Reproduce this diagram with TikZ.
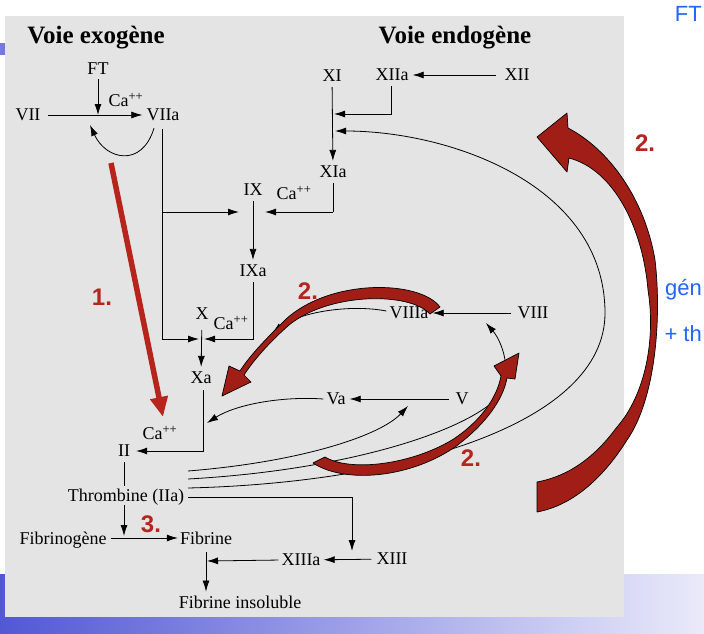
\documentclass[tikz,border=0pt]{standalone}
\usepackage{fontspec}
\setmainfont{Liberation Serif}
\newfontfamily\annot{Liberation Sans}
\usetikzlibrary{arrows.meta}
\definecolor{scan}{RGB}{228,228,228}
\definecolor{annred}{RGB}{182,36,28}
\definecolor{blkred}{RGB}{160,30,22}
\definecolor{hand}{RGB}{35,100,250}
\definecolor{barL}{RGB}{82,88,212}
\definecolor{barR}{RGB}{234,234,250}
\begin{document}
\begin{tikzpicture}[x=1pt,y=-1pt,
  lab/.style={font=\fontsize{18}{18}\selectfont, inner sep=0pt, text depth=0pt},
  hd/.style={font=\bfseries\fontsize{25}{25}\selectfont, inner sep=0pt, text depth=0pt},
  num/.style={font=\annot\bfseries\fontsize{24}{24}\selectfont, text=annred, inner sep=0pt},
  ln/.style={line width=0.8pt, black},
  arr/.style={ln, -{Latex[length=11pt,width=7pt]}},
  blk/.style={fill=blkred, draw=black, line width=0.7pt, line join=round},
  hw/.style={font=\annot\fontsize{22}{22}\selectfont, text=hand, inner sep=0pt}
]
\useasboundingbox (0,0) rectangle (704,634);
\fill[white] (0,0) rectangle (704,634);
\shade[left color=barL, right color=barR] (0,574) rectangle (704,634);
\fill[barL!80!white] (0,43) rectangle (6,55);
\fill[scan] (5,16) rectangle (624,617);

% handwritten notes
\node[hw, anchor=east] (hwFT) at (702,14) {FT};
\node[hw, anchor=east] (hwgen) at (702,290) {gén};
\node[hw, anchor=east] (hwth) at (702,334) {+ th};

% headings
\node[hd] (hexo) at (96,35) {Voie exogène};
\node[hd] (hendo) at (455,35) {Voie endogène};

% factors
\node[lab] (FT) at (98,69) {FT};
\node[lab] (caA) at (126,100) {Ca\textsuperscript{++}};
\node[lab] (VII) at (28,115) {VII};
\node[lab] (VIIa) at (163,115) {VIIa};
\node[lab] (XI) at (332,76) {XI};
\node[lab] (XIIa) at (392,75) {XIIa};
\node[lab] (XII) at (517,75) {XII};
\node[lab] (XIa) at (333,172) {XIa};
\node[lab] (IX) at (253,190) {IX};
\node[lab] (caB) at (294,193) {Ca\textsuperscript{++}};
\node[lab] (IXa) at (253,271) {IXa};
\node[lab] (X) at (202,314) {X};
\node[lab] (caC) at (231,323) {Ca\textsuperscript{++}};
\node[lab] (Xa) at (201,378) {Xa};
\node[lab] (VIIIa) at (409,313) {VIIIa};
\node[lab] (VIII) at (533,313) {VIII};
\node[lab] (Va) at (336,399) {Va};
\node[lab] (V) at (462,399) {V};
\node[lab] (II) at (124,451) {II};
\node[lab] (caD) at (160,433) {Ca\textsuperscript{++}};
\node[lab] (thr) at (126,495) {Thrombine (IIa)};
\node[lab] (fibg) at (63,538) {Fibrinogène};
\node[lab] (fib) at (206,538) {Fibrine};
\node[lab] (XIIIa) at (301,560) {XIIIa};
\node[lab] (XIII) at (392,559) {XIII};
\node[lab] (fibi) at (240,602) {Fibrine insoluble};

% junction coordinates
\coordinate (jFT) at (98,115);
\coordinate (fb) at (90,125);
\coordinate (jVIIb) at (162,212);
\coordinate (jIXl) at (239,212);
\coordinate (jIXr) at (265,212);
\coordinate (jXIa) at (334,114);
\coordinate (jXIb) at (335,131);
\coordinate (jXl) at (199,339);
\coordinate (jXr) at (204,339);
\coordinate (jVa) at (207,423);
\coordinate (jVIIIa) at (272,333);
\coordinate (jV) at (408,406);
\coordinate (jVIII) at (486,323);
\coordinate (jF) at (124,536);
\coordinate (jFi) at (207,561);
\coordinate (jXIII) at (352,551);
\coordinate (t1) at (188,471);
\coordinate (t2) at (188,479);
\coordinate (t3) at (188,488);
\coordinate (t4) at (188,497);

% black connectors
\draw[arr, shorten <=7pt, shorten >=4pt] (VII) -- (VIIa);
\draw[arr, shorten <=4pt] (FT) -- (jFT);
\draw[arr] ([shift={(-9,7)}]VIIa.south) .. controls (142,168) and (106,160) .. (fb);
\draw[arr] ([shift={(-1,8)}]VIIa.south) |- (jXl);
\draw[arr] (jVIIb) -- (jIXl);
\draw[arr, shorten <=5pt, shorten >=5pt] (IX) -- (IXa);
\draw[arr, shorten <=5pt, shorten >=5pt] (XI) -- (XIa);
\draw[ln] ([shift={(0,5)}]XIa.south) -- (XIa.south |- jIXr);
\draw[arr] (XIa.south |- jIXr) -- (jIXr);
\draw[arr, shorten <=8pt, shorten >=4pt] (XII) -- (XIIa);
\draw[arr] ([shift={(-1,5)}]XIIa.south) |- (jXIa);
\draw[arr] ([shift={(0,5)}]IXa.south) |- (jXr);
\draw[arr, shorten <=10pt, shorten >=5pt] (X) -- (Xa);
\draw[arr, shorten >=6pt] ([shift={(2,6)}]Xa.south) |- (II.east);
\draw[ln, shorten <=5pt, shorten >=3pt] (II.south) -- (II.south |- thr.north);
\draw[arr, shorten <=4pt] (thr.south -| jF) -- (jF);
\draw[arr, shorten <=4pt, shorten >=2pt] (fibg) -- (fib);
\draw[arr, shorten <=8pt, shorten >=4pt] (fib.south) -- (fib.south |- fibi.north);
\draw[arr, shorten <=3pt] (XIIIa.west) -- (jFi);
\draw[arr, shorten <=5pt, shorten >=3pt] (XIII) -- (XIIIa);
\draw[arr, shorten <=6pt, shorten >=4pt] (VIII) -- (VIIIa);
\draw[arr, shorten <=6pt, shorten >=4pt] (V) -- (Va);
\draw[arr] ([shift={(-3,-2)}]VIIIa.west) .. controls (350,304) and (300,312) .. (jVIIIa);
\draw[arr] ([shift={(-3,0)}]Va.west) .. controls (280,396) and (235,405) .. (jVa);
\draw[arr] (t1) .. controls (300,462) and (380,436) .. (jV);
\draw[arr] (t2) .. controls (350,470) and (470,430) .. (500,395) .. controls (512,380) and (505,345) .. (jVIII);
\draw[arr] (t3) .. controls (400,483) and (605,425) .. (605,313) .. controls (605,185) and (450,131) .. (jXIb);
\draw[arr] (t4) -| (jXIII);

% red annotations
\coordinate (r1s) at (111,163);
\coordinate (r1e) at (163,417);
\draw[annred, line width=5.5pt, -{Triangle[length=20pt,width=17pt]}] (r1s) -- (r1e);

% block arrow VIIIa -> Xa
\path[blk] (440,307) .. controls (420,280) and (330,278) .. (285,320)
  .. controls (268,337) and (250,355) .. (240,371)
  -- (229,366) -- (222,396) -- (251,382) -- (244,375)
  .. controls (255,358) and (272,340) .. (289,325)
  .. controls (330,292) and (410,292) .. (430,314) -- cycle;

% block arrow lower (thrombine -> VIII)
\path[blk] (313,463) .. controls (345,484) and (410,478) .. (455,447)
  .. controls (485,425) and (503,400) .. (507,378)
  -- (515,379) -- (519,353) -- (494,366) -- (501,376)
  .. controls (497,398) and (480,422) .. (452,440)
  .. controls (410,465) and (350,472) .. (325,457) -- cycle;

% big block arrow right
\path[blk] (537,482) .. controls (575,475) and (600,450) .. (617,427)
  .. controls (645,395) and (656,340) .. (648,290)
  .. controls (643,230) and (615,170) .. (569,158)
  -- (567,172) -- (537,137) -- (567,113) -- (568,128)
  .. controls (610,150) and (645,200) .. (655,260)
  .. controls (662,320) and (655,400) .. (627,440)
  .. controls (605,475) and (575,505) .. (537,512) -- cycle;

\node[num] (n1) at (102,297) {1.};
\node[num] (n2a) at (308,291) {2.};
\node[num] (n2b) at (471,458) {2.};
\node[num] (n2c) at (645,143) {2.};
\node[num] (n3) at (151,524) {3.};
\end{tikzpicture}
\end{document}
